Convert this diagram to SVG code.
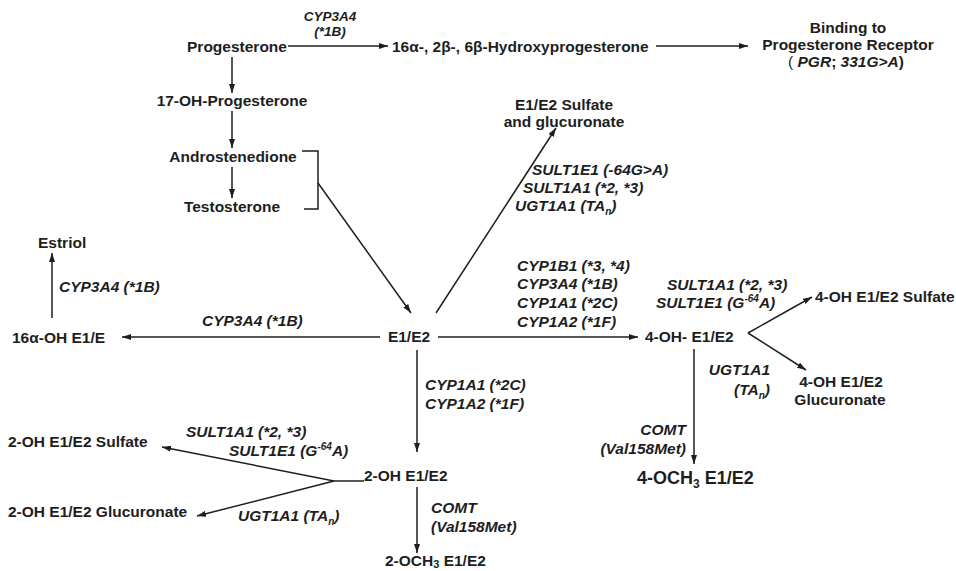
<svg xmlns="http://www.w3.org/2000/svg" width="956" height="571" viewBox="0 0 956 571">
<defs>
<style>
.n{font-family:"Liberation Sans",Arial,sans-serif;font-weight:bold;font-size:15.5px;fill:#1e1e1e}
.l{font-family:"Liberation Sans",Arial,sans-serif;font-weight:bold;font-style:italic;font-size:15.5px;fill:#1e1e1e}
.m{text-anchor:middle}
.e{text-anchor:end}
.c{fill:none;stroke:#1e1e1e;stroke-width:1.5}
.ar{marker-end:url(#a)}
</style>
<marker id="a" viewBox="0 0 9 6" refX="9" refY="3" markerWidth="9" markerHeight="6" markerUnits="userSpaceOnUse" orient="auto">
<path d="M0,0 L9,3 L0,6 z" fill="#1e1e1e"/>
</marker>
</defs>
<rect width="956" height="571" fill="#ffffff"/>

<g id="connectors">
<path class="c ar" d="M288,46 H388"/>
<path class="c ar" d="M656,46 H748"/>
<path class="c ar" d="M232,57 V93"/>
<path class="c ar" d="M232,111 V148"/>
<path class="c ar" d="M232,167 V198"/>
<path class="c" d="M302,151 H318 V209 H304"/>
<path class="c ar" d="M318,183 L411,313"/>
<path class="c ar" d="M436,313 L556,128"/>
<path class="c ar" d="M52,318 V253"/>
<path class="c ar" d="M380,337 H122"/>
<path class="c ar" d="M438,337 H638"/>
<path class="c ar" d="M748,333 L812,297"/>
<path class="c ar" d="M748,333 L806,370"/>
<path class="c ar" d="M694,349 V464"/>
<path class="c ar" d="M417,350 V452"/>
<path class="c" d="M364,481 H334"/>
<path class="c ar" d="M334,481 L162,447"/>
<path class="c ar" d="M334,481 L197,516"/>
<path class="c ar" d="M417,487 V553"/>
</g>

<g id="progesterone"><text class="n m" x="237" y="52">Progesterone</text></g>
<g id="lbl-cyp3a4-top">
<text class="l m" x="330" y="21" style="font-size:13.5px">CYP3A4</text>
<text class="l m" x="330" y="36" style="font-size:13.5px">(*1B)</text>
</g>
<g id="hydroxyprogesterone"><text class="n" x="392" y="52">16α-, 2β-, 6β-Hydroxyprogesterone</text></g>
<g id="binding">
<text class="n m" x="848" y="33">Binding to</text>
<text class="n m" x="848" y="50">Progesterone Receptor</text>
<text class="n m" x="846" y="67"><tspan style="font-weight:normal">(</tspan> <tspan font-style="italic">PGR</tspan>; <tspan font-style="italic">331G&gt;A</tspan>)</text>
</g>
<g id="oh-progesterone"><text class="n m" x="232" y="106">17-OH-Progesterone</text></g>
<g id="androstenedione"><text class="n m" x="233" y="162">Androstenedione</text></g>
<g id="testosterone"><text class="n m" x="232" y="212">Testosterone</text></g>

<g id="e1e2"><text class="n m" x="409" y="342">E1/E2</text></g>
<g id="e1e2-sulfate">
<text class="n m" x="564" y="110">E1/E2 Sulfate</text>
<text class="n m" x="564" y="127">and glucuronate</text>
</g>
<g id="lbl-sult-top">
<text class="l" x="532" y="175">SULT1E1 (-64G&gt;A)</text>
<text class="l" x="523" y="193">SULT1A1 (*2, *3)</text>
<text class="l" x="515" y="211">UGT1A1 (TA<tspan dy="4" font-size="10">n</tspan><tspan dy="-4">)</tspan></text>
</g>

<g id="estriol"><text class="n" x="38" y="248">Estriol</text></g>
<g id="lbl-cyp3a4-estriol"><text class="l" x="59" y="292">CYP3A4 (*1B)</text></g>
<g id="oh16"><text class="n" x="12" y="343">16α-OH E1/E</text></g>
<g id="lbl-cyp3a4-16"><text class="l" x="202" y="326">CYP3A4 (*1B)</text></g>

<g id="lbl-cyp-right">
<text class="l" x="517" y="271">CYP1B1 (*3, *4)</text>
<text class="l" x="517" y="289">CYP3A4 (*1B)</text>
<text class="l" x="517" y="308">CYP1A1 (*2C)</text>
<text class="l" x="517" y="327">CYP1A2 (*1F)</text>
</g>
<g id="oh4"><text class="n" x="645" y="342">4-OH- E1/E2</text></g>
<g id="lbl-sult-4oh">
<text class="l" x="667" y="290">SULT1A1 (*2, *3)</text>
<text class="l" x="656" y="308">SULT1E1 (G<tspan dy="-6" font-size="10">-64</tspan><tspan dy="6">A)</tspan></text>
</g>
<g id="oh4-sulfate"><text class="n" x="815" y="302">4-OH E1/E2 Sulfate</text></g>
<g id="lbl-ugt-4oh">
<text class="l e" x="770" y="375">UGT1A1</text>
<text class="l e" x="770" y="395">(TA<tspan dy="4" font-size="10">n</tspan><tspan dy="-4">)</tspan></text>
</g>
<g id="oh4-glucuronate">
<text class="n m" x="841" y="387">4-OH E1/E2</text>
<text class="n m" x="840" y="405">Glucuronate</text>
</g>
<g id="lbl-comt-4oh">
<text class="l e" x="686" y="435">COMT</text>
<text class="l e" x="686" y="454">(Val158Met)</text>
</g>
<g id="och3-4"><text class="n" x="637" y="484" style="font-size:18px">4-OCH<tspan dy="4" font-size="12">3</tspan><tspan dy="-4"> E1/E2</tspan></text></g>

<g id="lbl-cyp-down">
<text class="l" x="425" y="390">CYP1A1 (*2C)</text>
<text class="l" x="425" y="409">CYP1A2 (*1F)</text>
</g>
<g id="oh2"><text class="n" x="364" y="481">2-OH E1/E2</text></g>
<g id="oh2-sulfate"><text class="n" x="8" y="447">2-OH E1/E2 Sulfate</text></g>
<g id="lbl-sult-2oh">
<text class="l" x="186" y="437">SULT1A1 (*2, *3)</text>
<text class="l" x="229" y="456">SULT1E1 (G<tspan dy="-6" font-size="10">-64</tspan><tspan dy="6">A)</tspan></text>
</g>
<g id="oh2-glucuronate"><text class="n" x="8" y="517">2-OH E1/E2 Glucuronate</text></g>
<g id="lbl-ugt-2oh"><text class="l" x="238" y="521">UGT1A1 (TA<tspan dy="4" font-size="10">n</tspan><tspan dy="-4">)</tspan></text></g>
<g id="lbl-comt-2oh">
<text class="l" x="431" y="513">COMT</text>
<text class="l" x="431" y="532">(Val158Met)</text>
</g>
<g id="och3-2"><text class="n" x="385" y="566">2-OCH<tspan dy="2" font-size="11">3</tspan><tspan dy="-2"> E1/E2</tspan></text></g>
</svg>
